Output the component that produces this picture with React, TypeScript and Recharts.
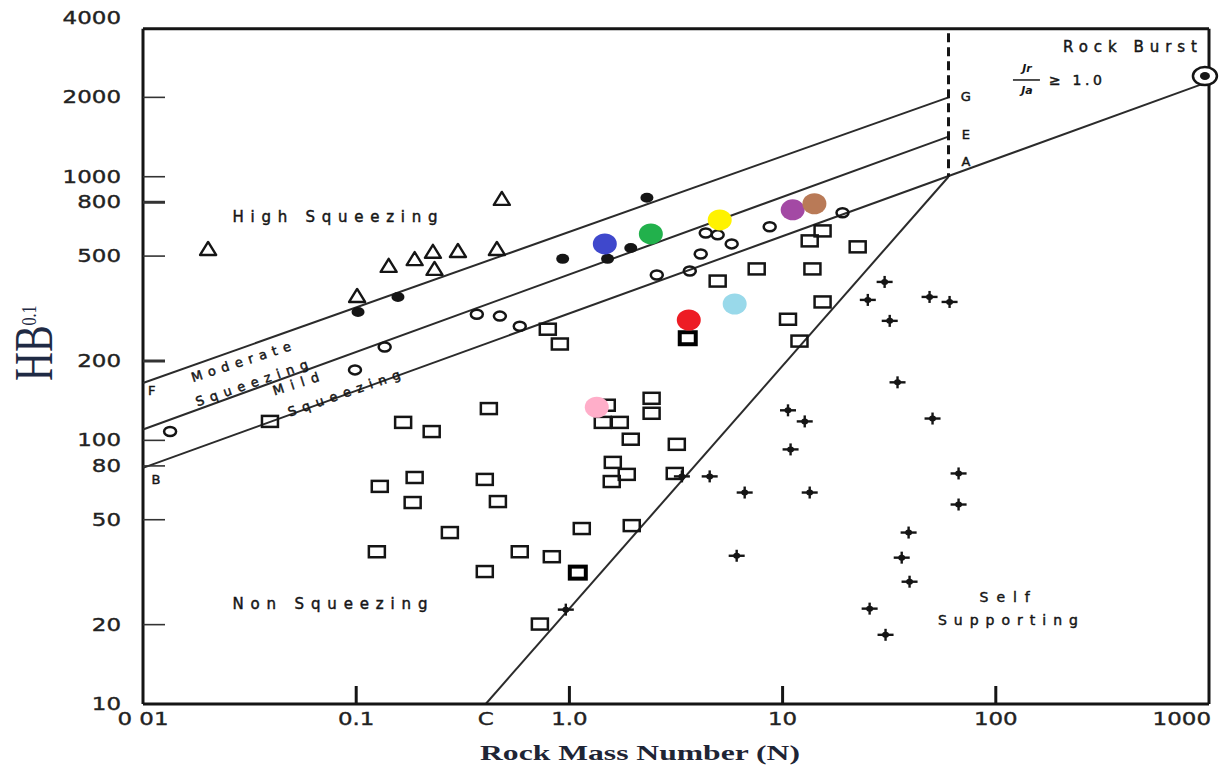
import { ScatterChart, Scatter, XAxis, YAxis, ReferenceLine } from 'recharts';

// reference image has no page margin
if (typeof document !== 'undefined') document.body.style.margin = '0';

type Pt = { n: number; v: number };
const pts = (rows: number[][]): Pt[] => rows.map(([n, v]) => ({ n, v }));

// Axis ticks
const xTicks = [0.01, 0.1, 0.405, 1, 10, 100, 1000];
const xTickLabels = ['0 01', '0.1', 'C', '1.0', '10', '100', '1000'];
const yTicks = [10, 20, 50, 80, 100, 200, 500, 800, 1000, 2000, 4000];

// Boundary lines (N, HB^0.1)
const lineFG = pts([[0.01, 165], [60, 2000]]);
const lineE = pts([[0.01, 110], [60, 1420]]);
const lineBA = pts([[0.01, 78.6], [908, 2230]]);
const lineCA = pts([[0.405, 10], [60, 1000]]);
const burstLimit = pts([[60, 3500], [60, 1000]]);
const frameTop = pts([[0.01, 3640], [1000, 3640]]);
const frameLeft = pts([[0.01, 10], [0.01, 3640]]);
const frameRight = pts([[1000, 10], [1000, 3640]]);

// Case histories
const highSqueezing = pts([
    [0.0202, 532], [0.101, 353], [0.142, 459], [0.188, 487], [0.229, 519],
    [0.233, 447], [0.3, 523], [0.457, 532], [0.482, 824],
]);
const moderateSqueezing = pts([
    [0.102, 307], [0.157, 350], [0.93, 488], [1.51, 488], [1.94, 537], [2.31, 832],
]);
const mildSqueezing = pts([
    [0.0134, 108], [0.0987, 185], [0.136, 226], [0.368, 301], [0.472, 296], [0.585, 271],
    [2.57, 424], [3.67, 439], [4.13, 509], [4.36, 612], [4.96, 602], [5.77, 556],
    [8.7, 646], [19.1, 730],
]);
const nonSqueezing = pts([
    [0.0394, 118], [0.166, 117], [0.226, 108], [0.419, 132], [0.129, 66.9], [0.188, 72.3],
    [0.184, 58.1], [0.401, 71.1], [0.462, 58.6], [0.275, 44.7], [0.125, 37.8], [0.585, 37.8],
    [0.827, 36.2], [0.401, 31.8], [0.727, 20.1], [1.143, 46.3], [1.961, 47.5], [1.58, 69.8],
    [1.858, 74.3], [1.598, 82.5], [3.12, 74.9], [3.19, 96.6], [1.94, 101], [1.434, 117],
    [1.723, 117], [2.43, 126.7], [2.43, 144.4], [1.497, 135.9], [0.792, 264], [0.902, 232],
    [4.96, 402], [7.56, 447], [13.8, 447], [13.4, 571], [15.4, 623], [22.5, 542],
    [15.4, 335], [10.6, 288], [12.0, 238],
]);
const nonSqueezingMarked = pts([[3.59, 244], [1.095, 31.5]]);
const selfSupporting = pts([
    [30.1, 399], [25.1, 341], [48.9, 350], [60.7, 335], [31.8, 284], [34.6, 166],
    [10.6, 130], [12.7, 118], [10.9, 92.4], [50.5, 121], [3.37, 73], [4.55, 73],
    [6.64, 63.4], [13.4, 63.4], [66.9, 74.9], [66.9, 57.1], [39.0, 44.7], [6.09, 36.5],
    [36.2, 35.9], [39.4, 29.1], [25.6, 23.0], [30.4, 18.3], [0.962, 22.8],
]);
const rockBurst = pts([[957, 2410]]);

// Highlighted sites
const highlightNames = ['blue', 'green', 'yellow', 'purple', 'brown', 'red', 'lightBlue', 'pink'];
const highlightN = [1.466, 2.41, 5.07, 11.15, 14.1, 3.63, 5.96, 1.344];
const highlightV = [556, 607, 686, 749, 790, 286, 329, 133.5];
const highlights = highlightNames.map((name, i) => ({ name, n: highlightN[i], v: highlightV[i] }));

// Zone labels
const notes = [
    { id: 'high', text: 'High Squeezing', n: 0.0796, v: 705 },
    { id: 'moderate', text: 'Moderate', n: 0.0288, v: 198.6 },
    { id: 'modSq', text: 'Squeezing', n: 0.0324, v: 165 },
    { id: 'mild', text: 'Mild', n: 0.0522, v: 164 },
    { id: 'mildSq', text: 'Squeezing', n: 0.0877, v: 151 },
    { id: 'non', text: 'Non Squeezing', n: 0.0753, v: 24.0 },
    { id: 'self', text: 'Self', n: 110, v: 25.5 },
    { id: 'supporting', text: 'Supporting', n: 114, v: 20.8 },
    { id: 'burst', text: 'Rock Burst', n: 426, v: 3112 },
    { id: 'letter', text: 'G', n: 72.4, v: 2008 },
    { id: 'letter', text: 'E', n: 72.4, v: 1441 },
    { id: 'letter', text: 'A', n: 72.4, v: 1138 },
    { id: 'letter', text: 'F', n: 0.011, v: 155 },
    { id: 'letter', text: 'B', n: 0.0115, v: 70.8 },
];
const ratioNote = pts([[140, 2328]]);

const INK = '#151515';
const LINE = '#2b2b2b';
const TICK_FONT = '"DejaVu Sans", sans-serif';

const HIGHLIGHT_COLORS: Record<string, string> = {
    blue: '#3f48cc',
    green: '#22b14c',
    yellow: '#fff200',
    purple: '#a349a4',
    brown: '#b97a57',
    red: '#ed1c24',
    lightBlue: '#99d9ea',
    pink: '#ffaec9',
};

const NOTE_STYLE: Record<string, { size: number; len?: number; angle?: number }> = {
    high: { size: 15, len: 205 },
    moderate: { size: 13, len: 104, angle: -18 },
    modSq: { size: 13, len: 118, angle: -19 },
    mild: { size: 13, len: 48, angle: -18 },
    mildSq: { size: 13, len: 118, angle: -19 },
    non: { size: 15, len: 195 },
    self: { size: 14, len: 50 },
    supporting: { size: 14, len: 140 },
    burst: { size: 15, len: 134 },
    letter: { size: 13 },
};

function TriangleMark({ cx, cy }: any) {
    return (
        <path
            d={`M${cx - 8},${cy + 6}L${cx},${cy - 7}L${cx + 8},${cy + 6}Z`}
            fill="none"
            stroke={INK}
            strokeWidth={2.4}
            strokeLinejoin="round"
        />
    );
}

function DotMark({ cx, cy }: any) {
    return <ellipse cx={cx} cy={cy} rx={6.5} ry={5} fill={INK} />;
}

function RingMark({ cx, cy }: any) {
    return <ellipse cx={cx} cy={cy} rx={6} ry={4.5} fill="none" stroke={INK} strokeWidth={2.5} />;
}

function SquareMark({ cx, cy }: any) {
    return <rect x={cx - 8} y={cy - 5.5} width={16} height={11} fill="none" stroke={INK} strokeWidth={2.5} />;
}

function BoldSquareMark({ cx, cy }: any) {
    return <rect x={cx - 8} y={cy - 6} width={16} height={12} fill="none" stroke="#000" strokeWidth={4} />;
}

function PlusMark({ cx, cy }: any) {
    return (
        <g>
            <line x1={cx - 8} y1={cy} x2={cx + 8} y2={cy} stroke={INK} strokeWidth={2.4} />
            <line x1={cx} y1={cy - 6} x2={cx} y2={cy + 6} stroke={INK} strokeWidth={2.4} />
            <ellipse cx={cx} cy={cy} rx={3.5} ry={3} fill={INK} />
        </g>
    );
}

function BurstMark({ cx, cy }: any) {
    return (
        <g>
            <ellipse cx={cx} cy={cy} rx={12} ry={9} fill="#fff" stroke={INK} strokeWidth={2.5} />
            <ellipse cx={cx} cy={cy} rx={5} ry={4} fill={INK} />
        </g>
    );
}

function HighlightMark({ cx, cy, payload }: any) {
    return <ellipse cx={cx} cy={cy} rx={12} ry={10.5} fill={HIGHLIGHT_COLORS[payload.name]} />;
}

function NoteText({ cx, cy, payload }: any) {
    const s = NOTE_STYLE[payload.id];
    return (
        <text
            transform={`translate(${cx},${cy}) rotate(${s.angle || 0})`}
            textAnchor="middle"
            dominantBaseline="central"
            fontFamily={TICK_FONT}
            fontSize={s.size}
            fill="#161616"
            stroke="#161616"
            strokeWidth={0.45}
            textLength={s.len}
        >
            {payload.text}
        </text>
    );
}

// Jr / Ja >= 1.0
function RatioText({ cx, cy }: any) {
    return (
        <g fontFamily={TICK_FONT} fill="#161616">
            <text x={cx} y={cy - 8} textAnchor="middle" fontSize={11} fontStyle="italic" fontWeight="bold">Jr</text>
            <line x1={cx - 14} y1={cy} x2={cx + 13} y2={cy} stroke="#161616" strokeWidth={1.5} />
            <text x={cx} y={cy + 14} textAnchor="middle" fontSize={11} fontStyle="italic" fontWeight="bold">Ja</text>
            <text x={cx + 22} y={cy + 5} fontSize={14} textLength={53} stroke="#161616" strokeWidth={0.45}>≥ 1.0</text>
        </g>
    );
}

function XTick({ x, y, payload, index }: any) {
    const value = payload.value;
    const hasMark = value === 0.1 || value === 1 || value === 10 || value === 100;
    const isLast = value === 1000;
    return (
        <g>
            {hasMark && <line x1={x} y1={y} x2={x} y2={y - 18} stroke={INK} strokeWidth={3} />}
            <text
                transform={`translate(${isLast ? x + 8 : x},${y + 15}) scale(1.35,1)`}
                textAnchor={isLast ? 'end' : 'middle'}
                dominantBaseline="central"
                fontFamily={TICK_FONT}
                fontSize={17}
                fill="#222"
                stroke="#222"
                strokeWidth={0.35}
            >
                {xTickLabels[xTicks.indexOf(value)] ?? xTickLabels[index]}
            </text>
        </g>
    );
}

function YTick({ x, y, payload }: any) {
    const value = payload.value;
    const hasMark = value !== 10 && value !== 4000;
    const heavy = value === 800 || value === 200;
    return (
        <g>
            {hasMark && (
                <line x1={x} y1={y} x2={x + 22} y2={y} stroke="#333" strokeWidth={heavy ? 3 : 1.6} />
            )}
            <text
                transform={`translate(${x - 22},${y}) scale(1.35,1)`}
                textAnchor="end"
                dominantBaseline="central"
                fontFamily={TICK_FONT}
                fontSize={17}
                fill="#222"
                stroke="#222"
                strokeWidth={0.35}
            >
                {value}
            </text>
        </g>
    );
}

function XTitle({ viewBox }: any) {
    const { x, y, width } = viewBox;
    return (
        <text
            x={x + width / 2 - 36}
            y={y + 48}
            textAnchor="middle"
            dominantBaseline="central"
            fontFamily='"Liberation Serif", serif'
            fontWeight="bold"
            fontSize={22}
            fill="#1f2535"
            textLength={320}
            lengthAdjust="spacingAndGlyphs"
        >
            Rock Mass Number (N)
        </text>
    );
}

function YTitle({ viewBox }: any) {
    const { y, height } = viewBox;
    return (
        <text
            transform={`translate(52,${y + height / 2 + 20}) rotate(-90) scale(1,1.35)`}
            fontFamily='"Liberation Serif", serif'
            fontSize={40}
            fill="#1f2a44"
        >
            HB
            <tspan fontSize={16} dy={-12}>0.1</tspan>
        </text>
    );
}

const seg = (p: Pt[]) => p.map((d) => ({ x: d.n, y: d.v }));

export default function App() {
    return (
        <div style={{ width: 1219, height: 767, background: '#fff' }}>
            <ScatterChart width={1219} height={767} margin={{ top: 18, right: 10, bottom: 0, left: 0 }}>
                <XAxis
                    type="number"
                    dataKey="n"
                    scale="log"
                    domain={[0.01, 1000]}
                    ticks={xTicks}
                    height={63}
                    axisLine={{ stroke: INK, strokeWidth: 3 }}
                    tickLine={false}
                    tickSize={0}
                    tickMargin={0}
                    tick={<XTick />}
                    label={<XTitle />}
                />
                <YAxis
                    type="number"
                    dataKey="v"
                    scale="log"
                    domain={[10, 4000]}
                    ticks={yTicks}
                    width={143}
                    axisLine={false}
                    tickLine={false}
                    tickSize={0}
                    tickMargin={0}
                    tick={<YTick />}
                    label={<YTitle />}
                />

                {/* frame */}
                <ReferenceLine segment={seg(frameTop)} stroke={INK} strokeWidth={3} ifOverflow="visible" />
                <ReferenceLine segment={seg(frameLeft)} stroke={INK} strokeWidth={3} ifOverflow="visible" />
                <ReferenceLine segment={seg(frameRight)} stroke={INK} strokeWidth={3} ifOverflow="visible" />

                {/* zone boundaries */}
                <ReferenceLine segment={seg(lineFG)} stroke={LINE} strokeWidth={2} ifOverflow="visible" />
                <ReferenceLine segment={seg(lineE)} stroke={LINE} strokeWidth={2} ifOverflow="visible" />
                <ReferenceLine segment={seg(lineBA)} stroke={LINE} strokeWidth={2} ifOverflow="visible" />
                <ReferenceLine segment={seg(lineCA)} stroke={LINE} strokeWidth={2} ifOverflow="visible" />
                <ReferenceLine
                    segment={seg(burstLimit)}
                    stroke={INK}
                    strokeWidth={3}
                    strokeDasharray="9 5"
                    ifOverflow="visible"
                />

                <Scatter name="High squeezing" data={highSqueezing} shape={TriangleMark} isAnimationActive={false} />
                <Scatter name="Moderate squeezing" data={moderateSqueezing} shape={DotMark} isAnimationActive={false} />
                <Scatter name="Mild squeezing" data={mildSqueezing} shape={RingMark} isAnimationActive={false} />
                <Scatter name="Non squeezing" data={nonSqueezing} shape={SquareMark} isAnimationActive={false} />
                <Scatter name="Non squeezing (marked)" data={nonSqueezingMarked} shape={BoldSquareMark} isAnimationActive={false} />
                <Scatter name="Self supporting" data={selfSupporting} shape={PlusMark} isAnimationActive={false} />
                <Scatter name="Rock burst" data={rockBurst} shape={BurstMark} isAnimationActive={false} />
                <Scatter name="Sites" data={highlights} shape={HighlightMark} isAnimationActive={false} />
                <Scatter name="Notes" data={notes} shape={NoteText} isAnimationActive={false} />
                <Scatter name="Ratio" data={ratioNote} shape={RatioText} isAnimationActive={false} />
            </ScatterChart>
        </div>
    );
}
